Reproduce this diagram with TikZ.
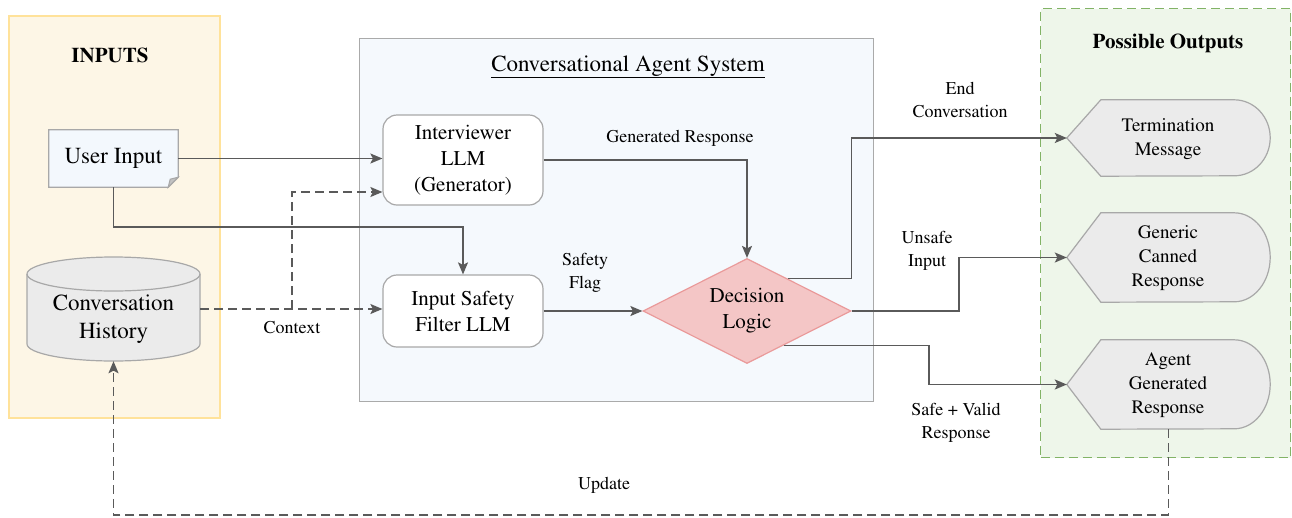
\documentclass[tikz,border=0pt]{standalone}
\usepackage[T1]{fontenc}
\renewcommand{\rmdefault}{ptm}
\usetikzlibrary{arrows.meta,shapes.geometric,calc}
\definecolor{inF}{HTML}{FDF6E6}
\definecolor{inB}{HTML}{FFE29A}
\definecolor{sysF}{HTML}{F5F9FD}
\definecolor{sysB}{HTML}{AAAAAA}
\definecolor{outF}{HTML}{EEF6EA}
\definecolor{outB}{HTML}{82B366}
\definecolor{boxB}{HTML}{A8A8A8}
\definecolor{grayF}{HTML}{EBEBEB}
\definecolor{userF}{HTML}{F3F8FD}
\definecolor{decF}{HTML}{F4C6C6}
\definecolor{decB}{HTML}{EA9A9A}
\definecolor{lineC}{HTML}{5A5A5A}
\tikzset{
  panel/.style={anchor=north west, inner sep=0pt},
  llmbox/.style={draw=boxB, fill=white, rounded corners=14pt, line width=1.2pt, align=center,
    font=\fontsize{21}{26}\selectfont, inner sep=0pt},
  lbl/.style={align=center, font=\fontsize{18}{23}\selectfont},
  outtxt/.style={align=center, font=\fontsize{19}{24}\selectfont, inner sep=0pt},
  conn/.style={draw=lineC, line width=1.5pt, -{Stealth[length=12pt,width=10pt,inset=2.5pt]}},
  dsh/.style={dash pattern=on 9pt off 5pt},
  shp/.style={draw=boxB, line width=1.2pt},
}
\begin{document}
\begin{tikzpicture}[x=1pt,y=-1pt]
\useasboundingbox (0,0) rectangle (1292,517);
% panels
\node[panel, draw=inB, fill=inF, line width=2.2pt, minimum width=211pt, minimum height=402pt] (inpanel) at (8,15) {};
\node[panel, draw=sysB, fill=sysF, line width=1.4pt, minimum width=514pt, minimum height=363pt] (syspanel) at (359,38) {};
\node[panel, draw=outB, fill=outF, line width=1.4pt, dsh, minimum width=250pt, minimum height=449pt] (outpanel) at (1040,8) {};
\node[font=\bfseries\fontsize{21}{26}\selectfont] (intitle) at (110,55) {INPUTS};
\node[font=\bfseries\fontsize{21}{26}\selectfont] (outtitle) at (1168,43) {Possible Outputs};
\node[font=\fontsize{23}{28}\selectfont] (systitle) at (628,67) {\underline{Conversational Agent System}};

% user input (note)
\node[minimum width=129pt, minimum height=57pt, inner sep=0pt] (user) at (113.5,158.5) {};
\filldraw[fill=userF, draw=boxB, line width=1.2pt] (user.north west) -- (user.north east) -- ($(user.south east)+(0,-10)$) -- ($(user.south east)+(-10,0)$) -- (user.south west) -- cycle;
\filldraw[fill=boxB!70, draw=boxB, line width=1pt] ($(user.south east)+(-10,0)$) -- ($(user.south east)+(-8,-8)$) -- ($(user.south east)+(0,-10)$) -- cycle;
\node[font=\fontsize{23}{28}\selectfont] at (user) {User Input};

% conversation history (cylinder)
\node[minimum width=173pt, minimum height=104pt, inner sep=0pt] (hist) at (113.5,309) {};
\filldraw[fill=grayF, shp] (27,274) -- (27,344) arc[start angle=180, end angle=360, x radius=86.5pt, y radius=17pt] -- (200,274) arc[start angle=0, end angle=180, x radius=86.5pt, y radius=17pt] -- cycle;
\draw[shp] (27,274) arc[start angle=180, end angle=360, x radius=86.5pt, y radius=17pt];
\node[align=center, font=\fontsize{23}{28}\selectfont] at (113.5,319) {Conversation\\History};

% LLM boxes
\node[llmbox, minimum width=160pt, minimum height=90pt] (llm) at (463,160) {Interviewer\\LLM\\(Generator)};
\node[llmbox, minimum width=160pt, minimum height=72pt] (safe) at (463,311) {Input Safety\\Filter LLM};

% decision
\node[diamond, aspect=2, draw=decB, fill=decF, line width=1.2pt, minimum width=208pt, minimum height=105pt, inner sep=0pt,
  align=center, font=\fontsize{21}{26}\selectfont] (dec) at (747,311) {Decision\\Logic};

% outputs
\foreach \nm/\cy/\hh in {term/138/38, gen/257.5/44.5, agent/384.5/44.5}{
  \node[minimum width=203pt, minimum height=2*\hh pt, inner sep=0pt] (\nm) at (1168.5,\cy) {};
  \filldraw[fill=grayF, shp] (\nm.west) -- ($(\nm.north west)+(34,0)$) -- ($(\nm.north east)+(-36,0)$)
     arc[start angle=90, end angle=-90, x radius=36pt, y radius=\hh pt] -- ($(\nm.south west)+(34,0)$) -- cycle;
}
\node[outtxt] at (1168,139) {Termination\\Message};
\node[outtxt] at (1168,258) {Generic\\Canned\\Response};
\node[outtxt] at (1168,385) {Agent\\Generated\\Response};

% helper coordinates
\coordinate (ctxx) at (292,0);
\coordinate (ubar) at (0,227);
\coordinate (ctxy) at (0,192);
\coordinate (uix) at (959,0);
\coordinate (svx) at (929,0);
\coordinate (bot) at (0,515);

% connectors
\draw[conn] (user.east) -- (user.east -| llm.west);
\draw[conn] (user.south) |- (safe.north |- ubar) -- (safe.north);
\draw[conn, dsh] (hist.east) -- (hist.east -| safe.west);
\draw[conn, dsh] (hist.east -| ctxx) |- (llm.west |- ctxy);
\draw[conn] (llm.east) -| (dec.north);
\draw[conn] (safe.east) -- (dec.west);
\draw[conn] ($(dec.east)!0.61!(dec.north)$) -| (dec.east |- term.west) -- (term.west);
\draw[conn] (dec.east) -| (uix |- gen.west) -- (gen.west);
\draw[conn] ($(dec.east)!0.65!(dec.south)$) -| (svx |- agent.west) -- (agent.west);
\draw[conn, dsh] (agent.south) -- (agent.south |- bot) -| (hist.south);

% labels
\node[lbl] (lctx) at (292,327) {Context};
\node[lbl] (lgen) at (680,138) {Generated Response};
\node[lbl] (lsf) at (585,273) {Safety\\Flag};
\node[lbl] (lend) at (960,100) {End\\Conversation};
\node[lbl] (luns) at (927,251) {Unsafe\\Input};
\node[lbl] (lsv) at (956,423) {Safe + Valid\\Response};
\node[lbl] (lupd) at (604,485) {Update};
\end{tikzpicture}
\end{document}
